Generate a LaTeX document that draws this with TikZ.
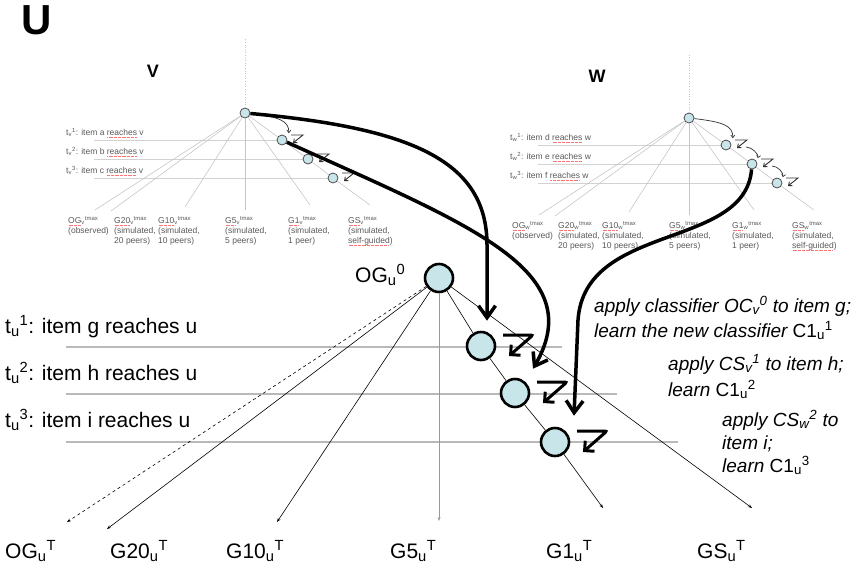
\documentclass[tikz,border=0pt]{standalone}
\usepackage{fontspec}
\setmainfont{Liberation Sans}
\usetikzlibrary{arrows.meta}

\definecolor{nodefill}{RGB}{200,230,234}
\newsavebox\spellbox
\newcommand\idx[3]{#1\textsubscript{#2}\textsuperscript{#3}}
\newcommand\spell[1]{\sbox\spellbox{#1}\rlap{\textcolor{red!55}{\raisebox{-0.45ex}{\leaders\hbox to 1.3pt{\hss\rule{0.6pt}{0.3pt}\hss}\hskip\wd\spellbox}}}\usebox\spellbox}

\begin{document}
\begin{tikzpicture}
	[x=1pt, y=-1pt,
	 main/.style = {draw, circle, fill=nodefill, line width=2.6pt, minimum size=28pt, inner sep=0pt},
	 mini/.style = {draw=black!70, circle, fill=nodefill, line width=0.8pt, minimum size=10pt, inner sep=0pt},
	 lab/.style = {font=\fontsize{21}{24}\selectfont, inner sep=0pt, anchor=base west},
	 note/.style = {font=\fontsize{19}{24}\selectfont\itshape, inner sep=0pt, anchor=base west},
	 ttext/.style = {font=\fontsize{8.5}{10}\selectfont, text=black!65, inner sep=0pt, anchor=base west},
	 gline/.style = {draw=gray!45, line width=0.6pt},
	 hline/.style = {draw=gray!35, line width=0.6pt},
	 uline/.style = {draw=gray!55, line width=1.2pt},
	 thinarr/.style = {line width=0.6pt, -{Stealth[length=4pt,width=3pt]}},
	 big/.style = {line width=3.5pt, -{Straight Barb[length=12pt,width=17pt]}},
	 uz/.style = {line width=3pt, rounded corners=2pt, -{Straight Barb[length=7pt,width=14pt]}},
	 tinyz/.style = {draw=black!80, line width=0.9pt, -{Straight Barb[length=3pt,width=5pt]}},
	 tinyarr/.style = {draw=black!80, line width=0.7pt, -{Straight Barb[length=2.5pt,width=4pt]}}]
	\useasboundingbox (0,0) rectangle (858,568);
	\node[font=\fontsize{42}{42}\selectfont\bfseries, inner sep=0pt, anchor=base west] (U) at (21,34) {U};

	% the two small trees of the peers v and w
	\foreach \tn/\ttl/\rx/\ry/\up/\ia/\ib/\ic in {v/V/245/113/75/a/b/c, w/W/689/118/63/d/e/f}{
	  \begin{scope}[shift={(\rx,\ry)}]
	    \node[font=\fontsize{18}{18}\selectfont\bfseries] (\tn-title) at (-92,-42) {\ttl};
	    \draw[hline] (-151,27) -- (37,27);
	    \draw[hline] (-151,46) -- (63,46);
	    \draw[hline] (-151,65) -- (88,65);
	    \node[mini] (\tn0) at (0,0) {};
	    \node[mini] (\tn1) at (37,27) {};
	    \node[mini] (\tn2) at (63,46) {};
	    \node[mini] (\tn3) at (88,65) {};
	    \node[ttext] (\tn-t1) at (-179,22) {\idx{t}{\tn}{1}: item \ia\ \spell{reaches} \tn};
	    \node[ttext] (\tn-t2) at (-179,41) {\idx{t}{\tn}{2}: item \ib\ \spell{reaches} \tn};
	    \node[ttext] (\tn-t3) at (-179,60) {\idx{t}{\tn}{3}: item \ic\ \spell{reaches} \tn};
	    \foreach \g/\ex/\ey/\lx/\la/\lb in {OG/-150/97/-177/{(observed)}/{},
	        G20/-134/98/-131/{(simulated,}/{20 peers)}, G10/-60/94/-87/{(simulated,}/{10 peers)},
	        G5/0/97/-20/{(simulated,}/{5 peers)}, G1/65/92/43/{(simulated,}/{1 peer)},
	        GS/125/92/103/{(simulated,}/{\spell{self-guided})}}{
	      \coordinate (\tn-\g) at (\ex,\ey);
	      \node[ttext] (\tn-\g-a) at (\lx,110) {\spell{\g}\textsubscript{\tn}\textsuperscript{tmax}};
	      \node[ttext] (\tn-\g-b) at (\lx,120) {\la};
	      \node[ttext] (\tn-\g-c) at (\lx,130) {\lb};
	    }
	    \foreach \g in {OG,G20,G10,G5,G1}
	      \draw[gline] (\tn0) -- (\tn-\g);
	    \draw[gline] (\tn0) -- (\tn1) -- (\tn2) -- (\tn3) -- (\tn-GS);
	    \draw[gline, dotted] (\tn0) -- (0,-\up);
	    \draw[tinyarr] (\tn0) .. controls (35,4) and (44,8) .. ([shift={(3,-3)}]\tn1.north east);
	    \foreach \k in {1,2,3}
	      \draw[tinyz] (\tn\k) ++(9,-5) -- ++(12,0) -- ++(-10,8);
	  \end{scope}
	}
	\draw[tinyarr] (w1) ++(20,2) .. controls +(6,0) and +(1,-4) .. ([shift={(2,-2)}]w2.north east);
	\draw[tinyarr] (w2) ++(20,2) .. controls +(6,0) and +(1,-4) .. ([shift={(2,-2)}]w3.north east);

	% the tree of u
	\draw[uline] (66,347) -- (562,347);
	\draw[uline] (66,394) -- (617,394);
	\draw[uline] (66,442) -- (678,442);
	\node[main] (u0) at (439,278) {};
	\node[main] (u1) at (481,346) {};
	\node[main] (u2) at (515,393) {};
	\node[main] (u3) at (555,442) {};
	\coordinate (u-OG) at (67,522);
	\coordinate (u-G20) at (107,529);
	\coordinate (u-G10) at (277,522);
	\coordinate (u-G5) at (439,521);
	\coordinate (u-G1) at (603,508);
	\coordinate (u-GS) at (752,508);
	\draw[thinarr, dashed] (u0) -- (u-OG);
	\draw[thinarr] (u0) -- (u-G20);
	\draw[thinarr] (u0) -- (u-G10);
	\draw[thinarr, draw=gray!80, line width=1pt] (u0) -- (u-G5);
	\draw[thinarr] (u0) -- (u1) -- (u2) -- (u3) -- (u-G1);
	\draw[thinarr] (u0) -- (u-GS);
	\foreach \k in {1,2,3}
	  \draw[uz] (u\k) ++(22,-11) -- ++(30,0) -- ++(-24,21);

	\node[lab] (og0) at (355,282) {\idx{OG}{u}{0}};
	\node[lab] (tu1) at (5,333) {\idx{t}{u}{1}: item g reaches u};
	\node[lab] (tu2) at (5,380) {\idx{t}{u}{2}: item h reaches u};
	\node[lab] (tu3) at (5,427) {\idx{t}{u}{3}: item i reaches u};
	\node[lab] (ogT) at (5,558) {\idx{OG}{u}{T}};
	\node[lab] (g20T) at (110,558) {\idx{G20}{u}{T}};
	\node[lab] (g10T) at (226,558) {\idx{G10}{u}{T}};
	\node[lab] (g5T) at (390,558) {\idx{G5}{u}{T}};
	\node[lab] (g1T) at (546,558) {\idx{G1}{u}{T}};
	\node[lab] (gsT) at (697,558) {\idx{GS}{u}{T}};

	\node[note] (a1) at (594,312) {apply classifier \idx{OC}{v}{0} to item g;};
	\node[note] (a2) at (594,337) {learn the new classifier \upshape\idx{C1}{u}{1}};
	\node[note] (b1) at (668,370) {apply \idx{CS}{v}{1} to item h;};
	\node[note] (b2) at (668,396) {learn \upshape\idx{C1}{u}{2}};
	\node[note] (c1) at (722,426) {apply \idx{CS}{w}{2} to};
	\node[note] (c2) at (722,449) {item i;};
	\node[note] (c3) at (722,472) {learn \upshape\idx{C1}{u}{3}};

	% classifiers handed over from v and w
	\draw[big] (v0) .. controls (410,128) and (487,160) .. (487,245) -- ([shift={(6,-10)}]u1.north);
	\draw[big] (v1) .. controls (470,225) and (590,270) .. ([shift={(18,-9)}]u2.north);
	\draw[big] (w2) .. controls (745,250) and (585,222) .. (578,320) -- ([shift={(19,-11)}]u3.north);
\end{tikzpicture}
\end{document}
